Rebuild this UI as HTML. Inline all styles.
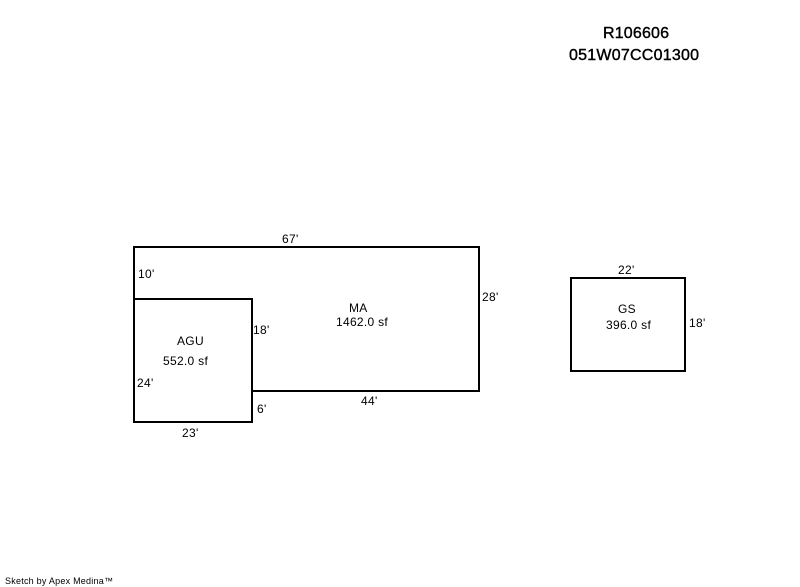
<!DOCTYPE html>
<html>
<head>
<meta charset="utf-8">
<title>Sketch</title>
<style>
html,body{margin:0;padding:0;background:#fff;width:800px;height:587px;overflow:hidden}
svg{display:block}
text{font-family:"Liberation Sans",Arial,sans-serif;fill:#000;font-size:12px;letter-spacing:.3px}
.h{font-size:16px;stroke:#000;stroke-width:.4px;letter-spacing:0}
.s{font-size:9px;letter-spacing:0}
</style>
</head>
<body>
<svg width="800" height="587" viewBox="0 0 800 587" xmlns="http://www.w3.org/2000/svg">
<rect width="800" height="587" fill="#fff"/>
<g fill="none" stroke="#000" stroke-width="2" stroke-linecap="square" shape-rendering="crispEdges">
<path d="M134 299V247H479V391H252"/>
<rect x="134" y="299" width="118" height="123"/>
<rect x="571" y="278" width="114" height="93"/>
</g>
<text class="h" x="603" y="38" textLength="66">R106606</text>
<text class="h" x="569" y="60" textLength="130">051W07CC01300</text>
<text x="282" y="243">67'</text>
<text x="138" y="278">10'</text>
<text x="253" y="334">18'</text>
<text x="137" y="387">24'</text>
<text x="257" y="413">6'</text>
<text x="182" y="437">23'</text>
<text x="361" y="405">44'</text>
<text x="482" y="301">28'</text>
<text x="349" y="312">MA</text>
<text x="336" y="326">1462.0 sf</text>
<text x="177" y="345">AGU</text>
<text x="163" y="365">552.0 sf</text>
<text x="618" y="274">22'</text>
<text x="689" y="327">18'</text>
<text x="618" y="313">GS</text>
<text x="606" y="329">396.0 sf</text>
<text class="s" x="5" y="584" textLength="108">Sketch by Apex Medina™</text>
</svg>
</body>
</html>
